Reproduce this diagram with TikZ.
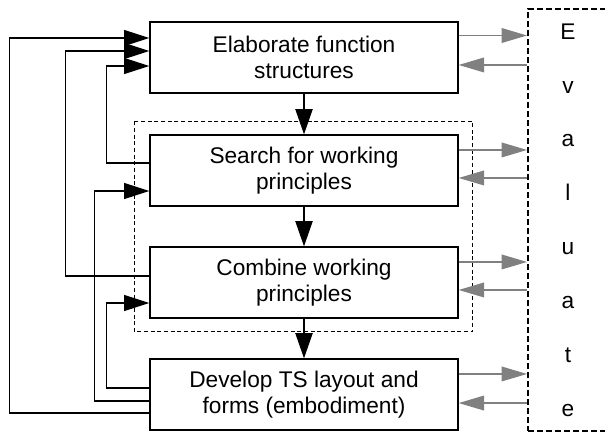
\documentclass[tikz,border=0pt]{standalone}
\usepackage{fontspec}
\setmainfont{Liberation Sans}
\usetikzlibrary{arrows.meta,calc}

\tikzset{every picture/.style={line width=0.75pt}}
\tikzset{
  stagebox/.style={draw, line width=1pt, minimum width=231pt, minimum height=53.25pt,
    inner sep=0pt, align=center, font=\fontsize{17}{19.5}\selectfont},
  flow/.style={line width=1pt, -{Triangle[length=19pt,width=13pt]}},
  fb/.style={line width=1pt, -{Triangle[length=19pt,width=12pt]}},
  ev/.style={color={rgb, 255:red, 128; green, 128; blue, 128}, line width=1pt,
    -{Triangle[length=19pt,width=11pt]}},
}

\begin{document}
\begin{tikzpicture}[x=0.75pt,y=0.75pt,yscale=-1,xscale=1]
\useasboundingbox (0,0) rectangle (605,432);

% Text Node
\node[stagebox] (elab) at (304,57.5) {Elaborate function\\structures};
% Text Node
\node[stagebox] (search) at (304,170.5) {Search for working\\principles};
% Text Node
\node[stagebox] (comb) at (304,282.5) {Combine working\\principles};
% Text Node
\node[stagebox] (dev) at (304,394.5) {Develop TS layout and\\forms (embodiment)};

% Text Node
\node[draw, line width=1.5pt, dash pattern=on 4.5pt off 2.25pt, minimum width=60pt,
  minimum height=316.5pt, align=center, font=\fontsize{17}{40.4}\selectfont]
  (eval) at (568,220) {E\\v\\a\\l\\u\\a\\t\\e};

%Dashed group
\draw[line width=1pt, dash pattern=on 3pt off 2pt]
  ($(search.north west)+(-15,-13)$) rectangle ($(comb.south east)+(14,13)$);

%Straight Lines
\draw[flow] (elab) -- (search);
\draw[flow] (search) -- (comb);
\draw[flow] (comb) -- (dev);

%Feedback Lines
\draw[fb] ($(dev.west)+(0,18.5)$) -- ++(-140,0) |- ($(elab.west)+(0,-19.5)$);
\draw[fb] ($(comb.west)+(0,-6.5)$) -- ++(-84,0) |- ($(elab.west)+(0,-6.5)$);
\draw[fb] ($(search.west)+(0,-7.5)$) -- ++(-43,0) |- ($(elab.west)+(0,8.5)$);
\draw[fb] ($(dev.west)+(0,6.5)$) -- ++(-55,0) |- ($(search.west)+(0,20.5)$);
\draw[fb] ($(dev.west)+(0,-6.5)$) -- ++(-43,0) |- ($(comb.west)+(0,20.5)$);

%Evaluate Lines
\draw[ev] ([yshift=-16.5pt]elab.east) -- ([yshift=-16.5pt]elab.east -| eval.west);
\draw[ev] ([yshift=5.6pt]elab.east -| eval.west) -- ([yshift=5.6pt]elab.east);
\draw[ev] ([yshift=-15.4pt]search.east) -- ([yshift=-15.4pt]search.east -| eval.west);
\draw[ev] ([yshift=5.6pt]search.east -| eval.west) -- ([yshift=5.6pt]search.east);
\draw[ev] ([yshift=-15.4pt]comb.east) -- ([yshift=-15.4pt]comb.east -| eval.west);
\draw[ev] ([yshift=5.6pt]comb.east -| eval.west) -- ([yshift=5.6pt]comb.east);
\draw[ev] ([yshift=-15.4pt]dev.east) -- ([yshift=-15.4pt]dev.east -| eval.west);
\draw[ev] ([yshift=6.4pt]dev.east -| eval.west) -- ([yshift=6.4pt]dev.east);

\end{tikzpicture}
\end{document}
